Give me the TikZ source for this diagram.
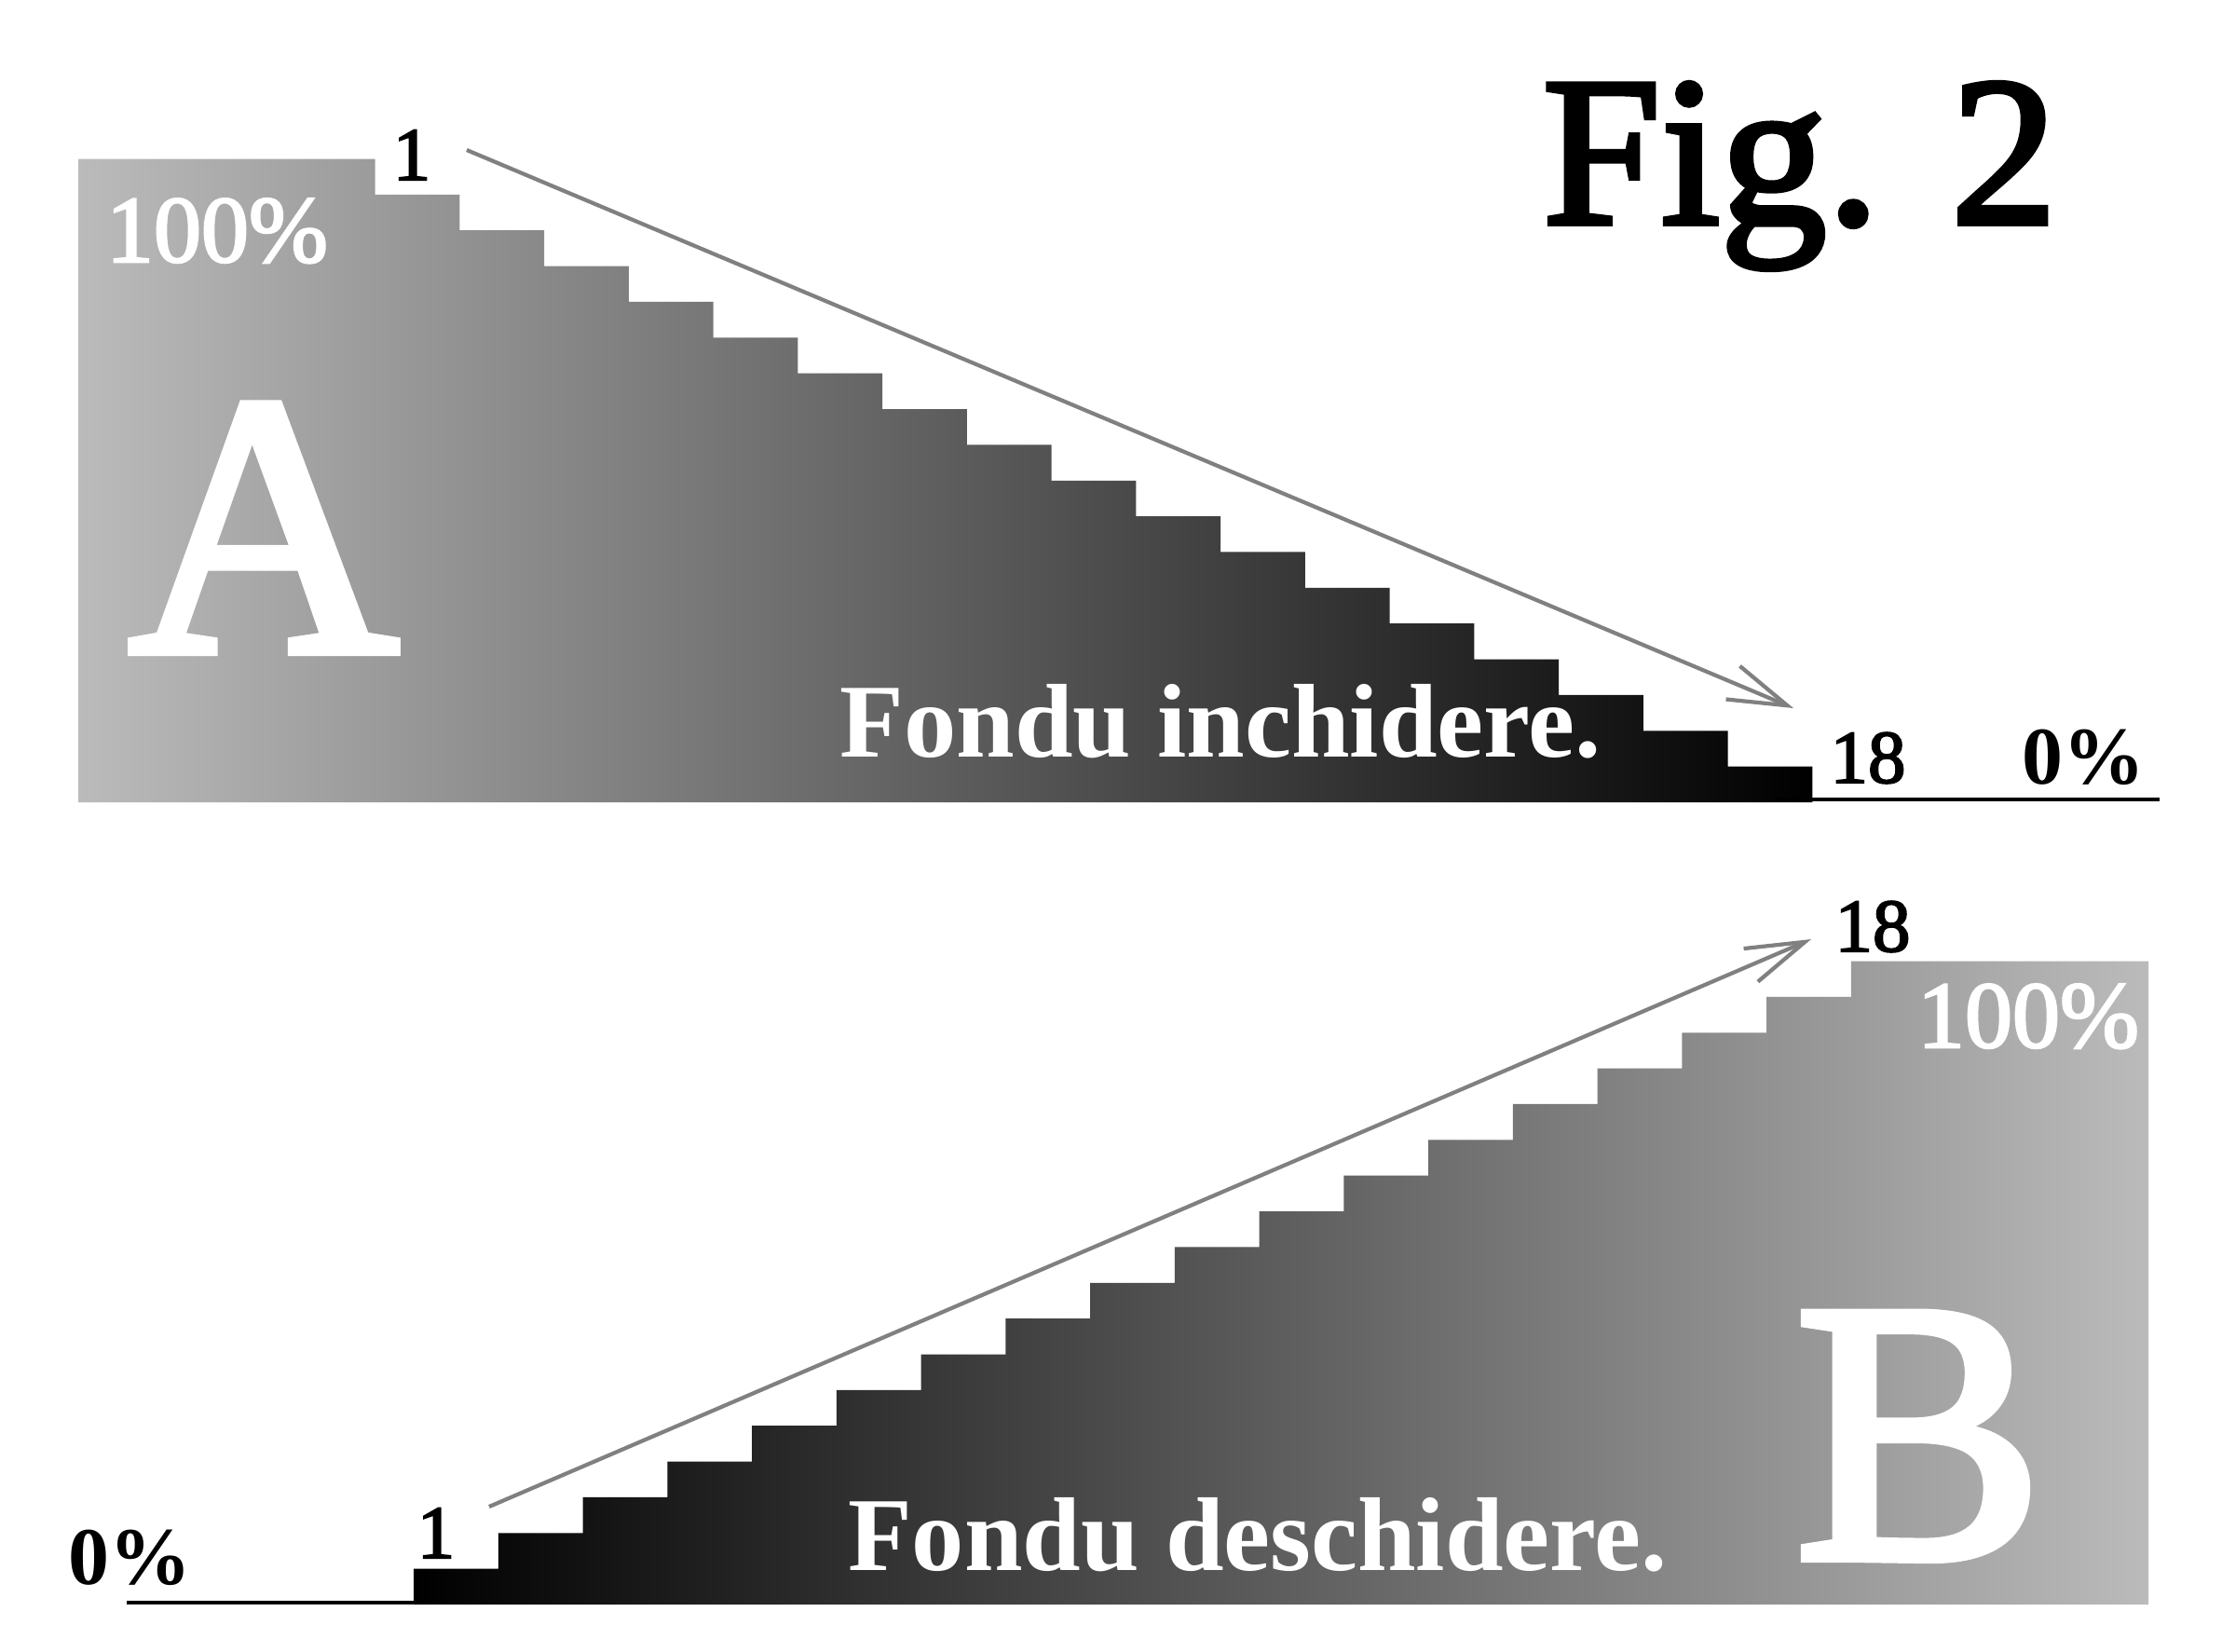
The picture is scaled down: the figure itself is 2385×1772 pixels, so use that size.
\documentclass[tikz,border=0pt]{standalone}
\usepackage{fontspec}
\setmainfont{Liberation Serif}
\newfontfamily\semi[FakeBold=2.5]{Liberation Serif}
\usetikzlibrary{arrows.meta}

\definecolor{stepgray}{HTML}{BBBBBB}
\definecolor{arrowgray}{HTML}{808080}
\newcommand{\fsz}[1]{\fontsize{#1}{#1}\selectfont}

\begin{document}
\begin{tikzpicture}[x=0.01cm, y=-0.01cm,
        lbl/.style={inner sep=0pt, anchor=base},
        fade/.style={draw=arrowgray, line width=1.2pt, -{Straight Barb[length=18pt, width=11pt]}},
        floor/.style={line width=1.4pt}]
        \fill[white] (0,0) rectangle (2385,1772);

        % Staircases
        \shade[left color=stepgray, right color=black]
            (84,861) -- (84,170.5) -- (402.6,170.5)
            \foreach \i in {1,...,17} { -- ++(0,38.36) -- ++(90.75,0) }
            -- (1945.35,861) -- cycle;
        \shade[left color=black, right color=stepgray]
            (444,1722) -- (444,1683.64)
            \foreach \i in {1,...,17} { -- ++(90.75,0) -- ++(0,-38.36) }
            -- (2306,1031.5) -- (2306,1722) -- cycle;
        \draw[floor] (1905,858) -- (2318,858);
        \draw[floor] (136,1720) -- (444,1720);

        % Nodes
        \node (fig) [lbl, font={\fsz{65}\semi}] at (1932,240) {Fig. 2};

        \node (a-first) [lbl, font={\fsz{23}\semi}] at (442,193) {1};
        \node (a-full) [lbl, white, font={\fsz{29}\semi}] at (233,281) {100\%};
        \node (a-letter) [lbl, white, font={\fsz{114}\semi}] at (283,699) {A};
        \node (a-title) [lbl, white, font={\fsz{32}\bfseries}] at (1310,812) {Fondu inchidere.};
        \node (a-last) [lbl, font={\fsz{23}\semi}] at (2005,840) {18};
        \node (a-zero) [lbl, font={\fsz{25}\bfseries}] at (2236,841) {0\%};

        \node (b-zero) [lbl, font={\fsz{25}\bfseries}] at (139,1700) {0\%};
        \node (b-first) [lbl, font={\fsz{23}\semi}] at (468,1672) {1};
        \node (b-title) [lbl, white, font={\fsz{32}\bfseries}] at (1350,1685) {Fondu deschidere.};
        \node (b-last) [lbl, font={\fsz{23}\semi}] at (2010,1021) {18};
        \node (b-full) [lbl, white, font={\fsz{29}\semi}] at (2177,1124) {100\%};
        \node (b-letter) [lbl, white, font={\fsz{114}\semi}] at (2060,1672) {B};

        \coordinate (a-from) at (501,161);
        \coordinate (a-to) at (1925,760);
        \coordinate (b-from) at (525,1617);
        \coordinate (b-to) at (1944,1008);

        % Edges
        \draw[fade] (a-from) -- (a-to);
        \draw[fade] (b-from) -- (b-to);
\end{tikzpicture}
\end{document}
